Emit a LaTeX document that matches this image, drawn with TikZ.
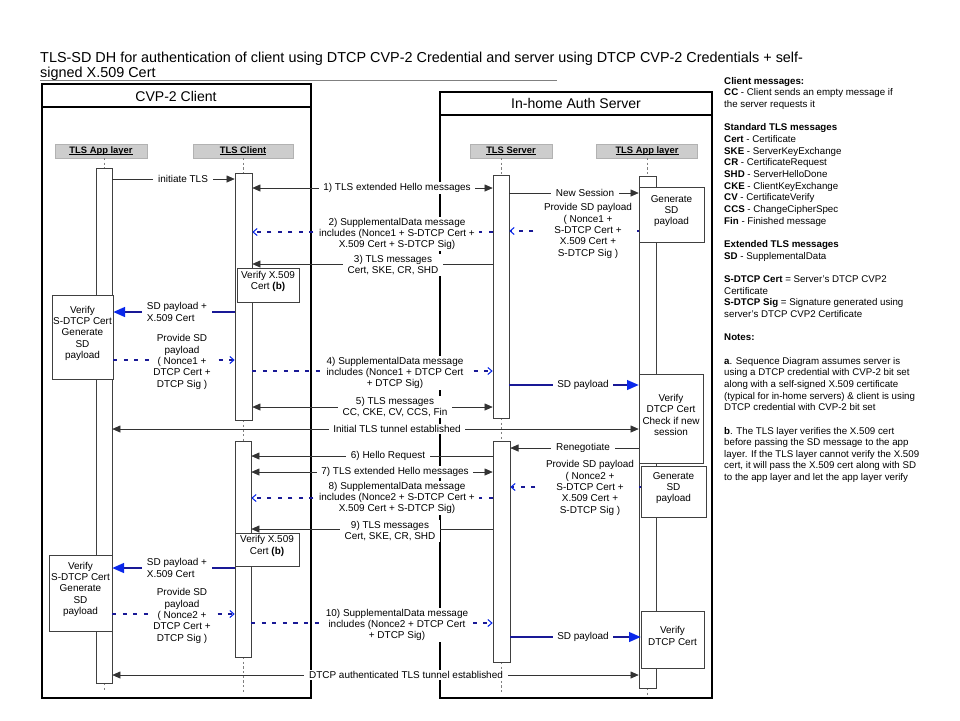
\documentclass[tikz,border=0pt]{standalone}
\usepackage{fontspec}
\setmainfont{Liberation Sans}
\usetikzlibrary{arrows.meta,fit}

\definecolor{entete}{RGB}{205,205,205}
\definecolor{bleusd}{RGB}{25,25,150}
\definecolor{bleupointe}{RGB}{10,40,235}

% soulignement des en-tetes
\newcommand\souligne[1]{\setbox0\hbox{#1}\rlap{\rule[-1.2pt]{\wd0}{0.5pt}}\box0}

\tikzset{
  cadre/.style={draw=black,line width=1.1pt,inner sep=0pt},
  entetebox/.style={draw=gray!60,fill=entete,inner sep=0pt,minimum height=14*0.03cm,text height=6pt,text depth=1.6pt,font=\fontsize{8}{9}\selectfont\bfseries},
  barre/.style={draw=black!75,fill=white,inner sep=0pt,line width=0.5pt},
  boite/.style={draw=black!75,fill=white,inner sep=0pt,align=center,line width=0.5pt,font=\fontsize{8.5}{9.7}\selectfont},
  vie/.style={draw=gray,line width=0.5pt,dash pattern=on 2pt off 2pt},
  msg/.style={draw=black!80,line width=0.6pt,-{Triangle[length=7pt,width=6pt]}},
  msgdbl/.style={draw=black!80,line width=0.6pt,{Triangle[length=7pt,width=6pt]}-{Triangle[length=7pt,width=6pt]}},
  sdmsg/.style={draw=bleusd,line width=1.2pt,-{Triangle[length=10pt,width=8.5pt,color=bleupointe]}},
  sdpt/.style={draw=bleusd,line width=0.9pt,dash pattern=on 3.5pt off 5.5pt,-{Straight Barb[length=3.5pt,width=6pt,color=bleupointe]}},
  etiq/.style={fill=white,inner ysep=1pt,inner xsep=4pt,align=center,font=\fontsize{8.5}{9.7}\selectfont},
}

\begin{document}
\begin{tikzpicture}[x=0.03cm,y=-0.03cm]
  \useasboundingbox (0,0) rectangle (960,720);
  % Titre
  \node[anchor=base west,inner sep=0pt,font=\fontsize{12.3}{14}\selectfont] (titre1) at (40,62) {TLS-SD DH for authentication of client using DTCP CVP-2 Credential and server using DTCP CVP-2 Credentials + self-};
  \node[anchor=base west,inner sep=0pt,font=\fontsize{12.3}{14}\selectfont] (titre2) at (40,77) {signed X.509 Cert};
  \draw[gray,line width=0.5pt] (titre2.west |- 0,80) -- (557,80);
  % Cadres client et serveur
  \node[cadre,fit={(42,84) (311,698)}] (client) {};
  \draw[line width=1.1pt] (client.west |- 0,107) -- (client.east |- 0,107);
  \node[font=\fontsize{12}{14}\selectfont] (nclient) at (176,96) {CVP-2 Client};
  \node[cadre,fit={(440,92) (712,698)}] (serveur) {};
  \draw[line width=1.1pt] (serveur.west |- 0,115) -- (serveur.east |- 0,115);
  \node[font=\fontsize{12}{14}\selectfont] (nserveur) at (576,103) {In-home Auth Server};
  % En-tetes des lignes de vie
  \node[entetebox,minimum width=92*0.03cm] (happg) at (101,151) {\souligne{TLS App layer}};
  \node[entetebox,minimum width=100*0.03cm] (hcli) at (243,151) {\souligne{TLS Client}};
  \node[entetebox,minimum width=82*0.03cm] (hsrv) at (511,151) {\souligne{TLS Server}};
  \node[entetebox,minimum width=101*0.03cm] (happd) at (647,151) {\souligne{TLS App layer}};
  % Lignes de vie (pointilles)
  \draw[vie] (104,158) -- (104,168);
  \draw[vie] (104,683) -- (104,692);
  \draw[vie] (243,158) -- (243,173);
  \draw[vie] (243,420) -- (243,441);
  \draw[vie] (243,657) -- (243,692);
  \draw[vie] (501,158) -- (501,175);
  \draw[vie] (501,418) -- (501,441);
  \draw[vie] (501,662) -- (501,692);
  \draw[vie] (647,158) -- (647,176);
  \draw[vie] (647,688) -- (647,696);
  % Barres d'activation
  \node[barre,fit={(96,168) (112,683)}] (appg) {};
  \node[barre,fit={(235,173) (252,420)}] (cli1) {};
  \node[barre,fit={(235,441) (251,657)}] (cli2) {};
  \node[barre,fit={(493,175) (509,418)}] (srv1) {};
  \node[barre,fit={(493,441) (510,662)}] (srv2) {};
  \node[barre,fit={(639,176) (656,688)}] (appd) {};
  % Boites de traitement
  \node[boite,fit={(237,268) (299,302)}] (vx1) {Verify X.509\\Cert \textbf{(b)}};
  \node[boite,fit={(52,295) (113,379)}] (vs1) {Verify\\S-DTCP Cert\\Generate\\SD\\payload};
  \node[boite,fit={(639,187) (704,242)}] (gen1) {Generate\\SD\\payload};
  \node[boite,fit={(639,374) (703,463)}] (vd1) {Verify\\DTCP Cert\\Check if new\\session};
  \node[boite,fit={(641,466) (706,517)}] (gen2) {Generate\\SD\\payload};
  \node[boite,fit={(235,533) (299,566)}] (vx2) {Verify X.509\\Cert \textbf{(b)}};
  \node[boite,fit={(49,555) (112,631)}] (vs2) {Verify\\S-DTCP Cert\\Generate\\SD\\payload};
  \node[boite,fit={(641,611) (704,668)}] (vd2) {Verify\\DTCP Cert};
  % Premiere poignee de main
  \draw[msg] (appg.east |- 0,179) -- (cli1.west |- 0,179);
  \node[etiq] (m0) at (183,179) {initiate TLS};
  \draw[msgdbl] (cli1.east |- 0,188) -- (srv1.west |- 0,188);
  \node[etiq] (m1) at (397,188) {1) TLS extended Hello messages};
  \draw[msg] (srv1.east |- 0,193) -- (gen1.west |- 0,193);
  \node[etiq] (ns) at (585,193) {New Session};
  \draw[sdpt] (gen1.west |- 0,231) -- (srv1.east |- 0,231);
  \node[etiq] (p1) at (588,231) {Provide SD payload\\( Nonce1 +\\S-DTCP Cert +\\X.509 Cert +\\S-DTCP Sig )};
  \draw[sdpt] (srv1.west |- 0,232) -- (cli1.east |- 0,232);
  \node[etiq] (m2) at (397,234) {2) SupplementalData message\\includes (Nonce1 + S-DTCP Cert +\\X.509 Cert + S-DTCP Sig)};
  \draw[msg] (srv1.west |- 0,264) -- (cli1.east |- 0,264);
  \node[etiq] (m3) at (393,265) {3) TLS messages\\Cert, SKE, CR, SHD};
  \draw[sdmsg] (cli1.west |- 0,312) -- (vs1.east |- 0,312);
  \node[etiq,align=left] (sd1) at (177,312) {SD payload +\\X.509 Cert};
  \draw[sdpt] (vs1.east |- 0,360) -- (cli1.west |- 0,360);
  \node[etiq] (pc1) at (182,362) {Provide SD\\payload\\( Nonce1 +\\DTCP Cert +\\DTCP Sig )};
  \draw[sdpt] (cli1.east |- 0,371) -- (srv1.west |- 0,371);
  \node[etiq] (m4) at (395,373) {4) SupplementalData message\\includes (Nonce1 + DTCP Cert\\+ DTCP Sig)};
  \draw[sdmsg] (srv1.east |- 0,385) -- (vd1.west |- 0,385);
  \node[etiq] (sp1) at (583,385) {SD payload};
  \draw[msgdbl] (cli1.east |- 0,407) -- (srv1.west |- 0,407);
  \node[etiq] (m5) at (395,407) {5) TLS messages\\CC, CKE, CV, CCS, Fin};
  \draw[msgdbl] (appg.east |- 0,429) -- (vd1.west |- 0,429);
  \node[etiq] (tun1) at (397,429) {Initial TLS tunnel established};
  % Renegociation
  \draw[msg] (vd1.west |- 0,448) -- (srv2.east |- 0,448);
  \node[etiq] (reneg) at (583,448) {Renegotiate};
  \draw[msg] (srv2.west |- 0,456) -- (cli2.east |- 0,456);
  \node[etiq] (m6) at (388,456) {6) Hello Request};
  \draw[msgdbl] (cli2.east |- 0,472) -- (srv2.west |- 0,472);
  \node[etiq] (m7) at (395,472) {7) TLS extended Hello messages};
  \draw[sdpt] (gen2.west |- 0,487) -- (srv2.east |- 0,487);
  \node[etiq] (p2) at (590,488) {Provide SD payload\\( Nonce2 +\\S-DTCP Cert +\\X.509 Cert +\\S-DTCP Sig )};
  \draw[sdpt] (srv2.west |- 0,498) -- (cli2.east |- 0,498);
  \node[etiq] (m8) at (397,498) {8) SupplementalData message\\includes (Nonce2 + S-DTCP Cert +\\X.509 Cert + S-DTCP Sig)};
  \draw[msg] (srv2.west |- 0,529) -- (cli2.east |- 0,529);
  \node[etiq] (m9) at (390,531) {9) TLS messages\\Cert, SKE, CR, SHD};
  \draw[sdmsg] (cli2.west |- 0,568) -- (vs2.east |- 0,568);
  \node[etiq,align=left] (sd2) at (177,568) {SD payload +\\X.509 Cert};
  \draw[sdpt] (vs2.east |- 0,614) -- (cli2.west |- 0,614);
  \node[etiq] (pc2) at (182,616) {Provide SD\\payload\\( Nonce2 +\\DTCP Cert +\\DTCP Sig )};
  \draw[sdpt] (cli2.east |- 0,623) -- (srv2.west |- 0,623);
  \node[etiq] (m10) at (397,625) {10) SupplementalData message\\includes (Nonce2 + DTCP Cert\\+ DTCP Sig)};
  \draw[sdmsg] (srv2.east |- 0,637) -- (vd2.west |- 0,637);
  \node[etiq] (sp2) at (583,637) {SD payload};
  \draw[msgdbl] (appg.east |- 0,675) -- (appd.west |- 0,675);
  \node[etiq] (tun2) at (406,675) {DTCP authenticated TLS tunnel established};
  % Legende
  \node[anchor=north west,inner sep=0pt,align=left,font=\fontsize{8.3}{9.95}\selectfont] (notes) at (724,77) {%
    \textbf{Client messages:}\\
    \textbf{CC} - Client sends an empty message if\\
    the server requests it\\[9.95pt]
    \textbf{Standard TLS messages}\\
    \textbf{Cert} - Certificate\\
    \textbf{SKE} - ServerKeyExchange\\
    \textbf{CR} - CertificateRequest\\
    \textbf{SHD} - ServerHelloDone\\
    \textbf{CKE} - ClientKeyExchange\\
    \textbf{CV} - CertificateVerify\\
    \textbf{CCS} - ChangeCipherSpec\\
    \textbf{Fin} - Finished message\\[9.95pt]
    \textbf{Extended TLS messages}\\
    \textbf{SD} - SupplementalData\\[9.95pt]
    \textbf{S-DTCP Cert} = Server's DTCP CVP2\\
    Certificate\\
    \textbf{S-DTCP Sig} = Signature generated using\\
    server's DTCP CVP2 Certificate\\[9.95pt]
    \textbf{Notes:}\\[9.95pt]
    \textbf{a}. Sequence Diagram assumes server is\\
    using a DTCP credential with CVP-2 bit set\\
    along with a self-signed X.509 certificate\\
    (typical for in-home servers) \& client is using\\
    DTCP credential with CVP-2 bit set\\[9.95pt]
    \textbf{b}. The TLS layer verifies the X.509 cert\\
    before passing the SD message to the app\\
    layer. If the TLS layer cannot verify the X.509\\
    cert, it will pass the X.509 cert along with SD\\
    to the app layer and let the app layer verify};
\end{tikzpicture}
\end{document}
